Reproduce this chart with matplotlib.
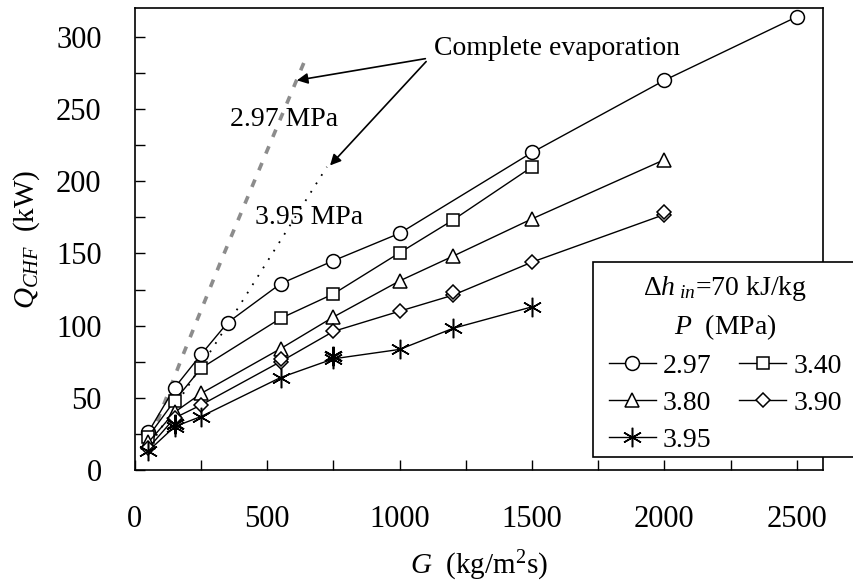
import numpy as np
from matplotlib import pyplot as plt
from matplotlib.patches import Rectangle
from matplotlib.ticker import MultipleLocator

plt.rcParams['font.family'] = ['Liberation Serif', 'DejaVu Serif']
plt.rcParams['mathtext.fontset'] = 'custom'
plt.rcParams['mathtext.rm'] = 'Liberation Serif'
plt.rcParams['mathtext.it'] = 'Liberation Serif:italic'

# mass flux G (kg/m2s) and critical heat flux power Q_CHF (kW) per pressure
G_297 = [50, 150, 250, 350, 550, 750, 1000, 1500, 2000, 2500]
Q_297 = [26, 57, 80, 102, 129, 145, 164, 220, 270, 314]

G_340 = [50, 150, 250, 550, 750, 1000, 1200, 1500]
Q_340 = [23, 48, 70.5, 105, 122, 150.5, 173, 210]

G_380 = [50, 150, 250, 550, 750, 1000, 1200, 1500, 2000]
Q_380 = [19, 40, 53, 84, 106, 131, 148, 174, 215]

G_390 = [50, 150, 250, 550, 750, 1000, 1200, 1500, 2000]
Q_390 = [15, 36, 45, 75, 96, 110, 121, 144, 177]
G_390_dup = [550, 1200, 2000]
Q_390_dup = [77, 123.5, 178.5]

G_395 = [50, 150, 250, 550, 750, 1000, 1200, 1500]
Q_395 = [13, 30, 37, 64, 77, 83.5, 98, 113]
G_395_dup = [150, 750]
Q_395_dup = [32, 79]

# complete evaporation limits
G_ce297 = [60, 180, 330, 640]
Q_ce297 = [22, 79, 147, 283]
G_ce395 = [60, 320, 725]
Q_ce395 = [18, 92, 210]

fig = plt.figure(figsize=(8.54, 5.83), dpi=100)
ax = fig.add_axes([0.158, 0.194, 0.806, 0.792])

ax.plot(G_ce297, Q_ce297, color='#8c8c8c', lw=2.6, ls=(0, (2.2, 2.8)))
ax.plot(G_ce395, Q_ce395, color='k', lw=1.3, ls=(0, (1, 4.5)))

lk = dict(color='k', lw=1.0, mfc='white', mec='k', mew=1.1)
h1, = ax.plot(G_297, Q_297, marker='o', ms=10, label='2.97', **lk)
h2, = ax.plot(G_340, Q_340, marker='s', ms=9, label='3.40', **lk)
h3, = ax.plot(G_380, Q_380, marker='^', ms=10, label='3.80', **lk)
h4, = ax.plot(G_390, Q_390, marker='D', ms=7.5, label='3.90', **lk)
h5, = ax.plot(G_395, Q_395, marker=(6, 2, 0), ms=14, label='3.95', **lk)
ax.plot(G_390_dup, Q_390_dup, ls='none', marker='D', ms=7.5, mfc='white', mec='k', mew=1.1)
ax.plot(G_395_dup, Q_395_dup, ls='none', marker=(6, 2, 0), ms=14, mec='k', mew=1.5)

ax.text(563, 243, '2.97 MPa', fontsize=20, ha='center', va='center')
ax.text(657, 175, '3.95 MPa', fontsize=20, ha='center', va='center')
ax.text(1128, 292, 'Complete evaporation', fontsize=20, ha='left', va='center')
ap = dict(arrowstyle='-|>', color='k', lw=1.2, mutation_scale=16, shrinkA=0, shrinkB=0)
ax.annotate('', xy=(612, 270), xytext=(1097, 285), arrowprops=ap)
ax.annotate('', xy=(737, 211), xytext=(1100, 283), arrowprops=ap)

ax.set_xlim(0, 2600)
ax.set_ylim(0, 320)
ax.xaxis.set_major_locator(MultipleLocator(500))
ax.xaxis.set_minor_locator(MultipleLocator(250))
ax.yaxis.set_major_locator(MultipleLocator(50))
ax.yaxis.set_minor_locator(MultipleLocator(25))
ax.tick_params(which='both', direction='in', length=7, width=1.0)
ax.tick_params(axis='x', which='major', labelsize=22, pad=25)
ax.tick_params(axis='y', which='major', labelsize=22, pad=24)
for s in ax.spines.values():
    s.set_linewidth(1.2)

ax.set_xlabel('$G$  (kg/m$^2$s)', fontsize=21)
ax.xaxis.set_label_coords(0.5, -0.17)
ax.set_ylabel('$Q_{CHF}$  (kW)', fontsize=21)
ax.yaxis.set_label_coords(-0.135, 0.5)

# legend box runs past the right edge of the axes
box = Rectangle((0.6657, 0.028), 0.42, 0.422, transform=ax.transAxes,
                facecolor='white', edgecolor='k', lw=1.2, clip_on=False, zorder=4.5)
ax.add_patch(box)

handles = [h1, h3, h5, h2, h4]
leg = ax.legend(handles=handles, labels=[h.get_label() for h in handles], ncol=2,
                loc='upper left', bbox_to_anchor=(0.666, 0.457), borderaxespad=0,
                fontsize=20, title='$\\Delta h_{\\ in}$=70 kJ/kg\n$P$  (MPa)',
                title_fontsize=20, frameon=False, handlelength=1.7, handletextpad=0.25,
                columnspacing=1.0, labelspacing=0.42, borderpad=0.55)
leg.set_zorder(6)
leg.get_title().set_multialignment('center')
leg.get_title().set_linespacing(1.4)

fig.savefig('out.png', dpi=100)
